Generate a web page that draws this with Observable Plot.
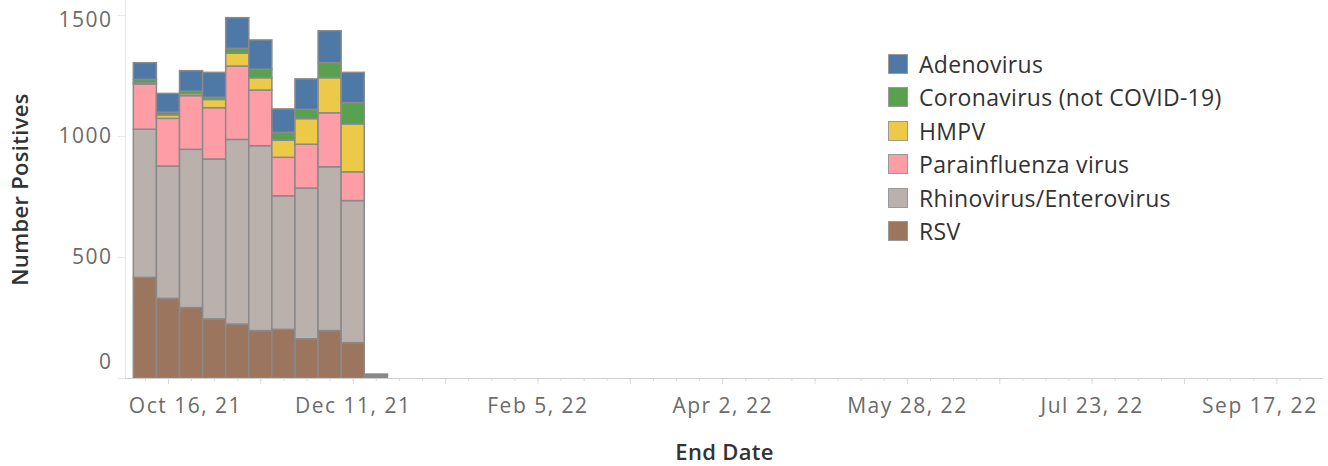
<!DOCTYPE html>
<html><head><meta charset="utf-8">
<script src="https://cdn.jsdelivr.net/npm/d3@7"></script>
<script src="https://cdn.jsdelivr.net/npm/@observablehq/plot@0.6"></script>
<style>
body{margin:0;background:#fff;}
#wrap{position:relative;width:1328px;height:466px;font-family:"Open Sans",sans-serif;}
#wrap svg text{letter-spacing:1.5px;}
#wrap svg .ttl text{letter-spacing:0.3px;}
#legend{position:absolute;left:888px;top:47px;}
.row{display:flex;align-items:center;height:33.5px;font-size:23px;letter-spacing:0.3px;color:#333;white-space:nowrap;}
.sw{width:18px;height:18px;border:1px solid #999;margin-right:11px;box-sizing:content-box;}
</style></head><body><div id="wrap"></div>
<script>
// Week end dates (Saturdays)
const weeks = ["2021-10-09","2021-10-16","2021-10-23","2021-10-30","2021-11-06","2021-11-13","2021-11-20","2021-11-27","2021-12-04","2021-12-11","2021-12-18"];
// Series values per week
const rsv        = [416, 329, 291, 244, 223, 196, 201, 162, 196, 146, 4];
const rhino      = [612, 547, 654, 661, 763, 764, 552, 623, 677, 587, 6];
const parainf    = [187, 197, 222, 212, 303, 230, 159, 181, 223, 119, 2];
const hmpv       = [6, 14, 8, 34, 53, 51, 71, 106, 145, 198, 1];
const corona     = [13, 11, 10, 9, 20, 35, 32, 38, 62, 88, 1];
const adeno      = [69, 78, 85, 103, 127, 121, 97, 126, 132, 125, 2];
// Series names (legend order, top to bottom) and colours
const legendOrder = ["Adenovirus","Coronavirus (not COVID-19)","HMPV","Parainfluenza virus","Rhinovirus/Enterovirus","RSV"];
const colors      = ["#4e79a7","#59a14f","#edc948","#ff9da7","#bab0ac","#9c755f"];
// Axis tick dates / labels
const labelDates = ["2021-10-16","2021-12-11","2022-02-05","2022-04-02","2022-05-28","2022-07-23","2022-09-17"];
const yTicks = [0, 500, 1000, 1500];

const seriesValues = {
  "Adenovirus": adeno, "Coronavirus (not COVID-19)": corona, "HMPV": hmpv,
  "Parainfluenza virus": parainf, "Rhinovirus/Enterovirus": rhino, "RSV": rsv
};
const stackOrder = legendOrder.slice().reverse(); // bottom first
const data = [];
weeks.forEach((w, i) => stackOrder.forEach(s => data.push({date: w, series: s, value: seriesValues[s][i]})));

const fmtKey = d3.utcFormat("%Y-%m-%d");
const xDomain = d3.utcSaturday.range(new Date("2021-10-09"), new Date("2022-09-25")).map(fmtKey);
const majorTicks = xDomain.filter((d, i) => (i - 1) % 4 === 0);
const labelFmt = d => d3.utcFormat("%b %-d, %y")(new Date(d));
const midLabels = labelDates.slice(1, -1);
const firstLabel = labelDates.slice(0, 1);
const lastLabel = labelDates.slice(-1);
const tickFont = {fontSize: 21, fill: "#6b6b6b", label: null};

const chart = Plot.plot({
  width: 1328, height: 466,
  marginLeft: 125, marginRight: 5, marginTop: 0, marginBottom: 88,
  style: {fontFamily: "Open Sans", background: "#fff"},
  x: {type: "band", domain: xDomain, paddingInner: 0, paddingOuter: 0.44, align: 0.41, round: false},
  y: {domain: [0, 1562]},
  color: {domain: legendOrder, range: colors},
  marks: [
    Plot.frame({anchor: "left", stroke: "#e6e6e6"}),
    Plot.axisY({ticks: yTicks, tickSize: 7, stroke: "#e6e6e6", text: null, label: null}),
    Plot.axisY({ticks: [500, 1000], tickSize: 0, tickPadding: 13, tickFormat: "d", ...tickFont}),
    Plot.axisY({ticks: [1500], tickSize: 0, tickPadding: 13, dy: 5, tickFormat: "d", ...tickFont}),
    Plot.axisY({ticks: [0], tickSize: 0, tickPadding: 13, dy: -16, tickFormat: "d", ...tickFont}),
    Plot.axisX({ticks: xDomain, tickSize: 3, stroke: "#dcdcdc", text: null, label: null}),
    Plot.axisX({ticks: majorTicks, tickSize: 6, stroke: "#dcdcdc", text: null, label: null}),
    Plot.axisX({ticks: midLabels, tickSize: 0, tickPadding: 20, tickFormat: labelFmt, ...tickFont}),
    Plot.axisX({ticks: firstLabel, tickSize: 0, tickPadding: 20, dx: 17, tickFormat: labelFmt, ...tickFont}),
    Plot.axisX({ticks: lastLabel, tickSize: 0, tickPadding: 20, dx: -17, tickFormat: labelFmt, ...tickFont}),
    Plot.barY(data, {x: "date", y: "value", fill: "series", order: stackOrder, stroke: "#8a8a8a", strokeWidth: 1.5}),
    Plot.ruleY([0], {stroke: "#cfcfcf", strokeWidth: 1.2}),
    Plot.text(["Number Positives"], {frameAnchor: "left", dx: -105, rotate: -90, textAnchor: "middle", fontSize: 22, fontWeight: 600, fill: "#333", className: "ttl"}),
    Plot.text(["End Date"], {frameAnchor: "bottom", dy: 81, fontSize: 22, fontWeight: 600, fill: "#333", className: "ttl"})
  ]
});
const wrap = document.getElementById("wrap");
wrap.appendChild(chart);
const legend = document.createElement("div");
legend.id = "legend";
legendOrder.forEach((s, i) => {
  const row = document.createElement("div");
  row.className = "row";
  const sw = document.createElement("div");
  sw.className = "sw";
  sw.style.background = colors[i];
  const t = document.createElement("span");
  t.textContent = s;
  row.appendChild(sw); row.appendChild(t);
  legend.appendChild(row);
});
wrap.appendChild(legend);
</script></body></html>
